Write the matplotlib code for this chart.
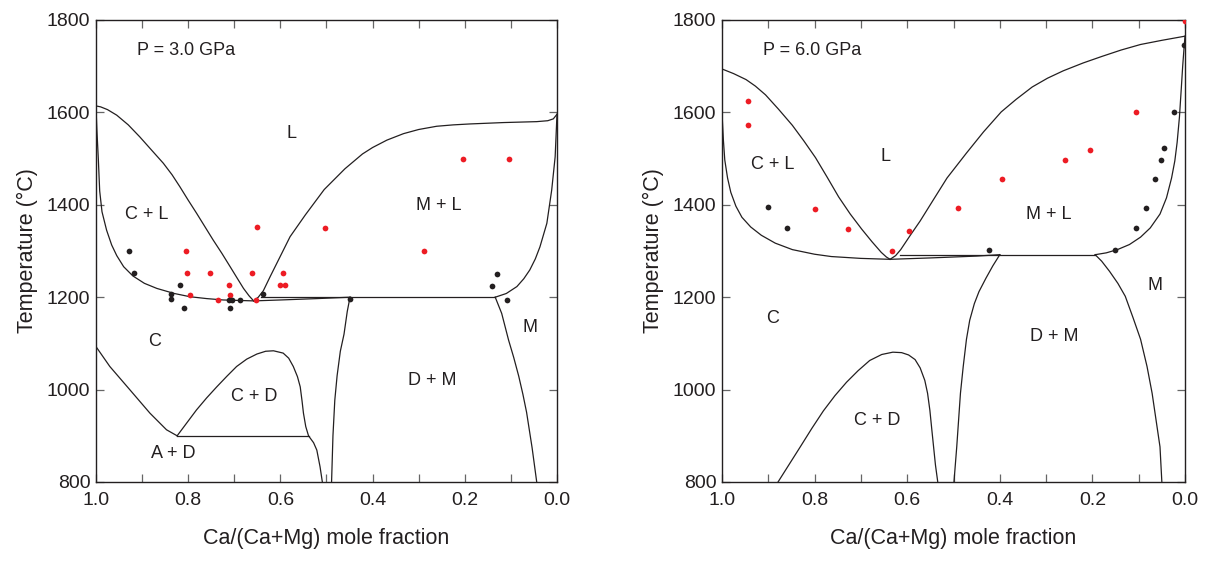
import matplotlib.pyplot as plt
from matplotlib.ticker import MultipleLocator

plt.rcParams['font.family'] = ['Liberation Sans', 'DejaVu Sans']

INK = '#231f20'
RED = '#ed1c24'

# ---- P = 3.0 GPa: experiment points ----
p3_red_x = [0.651, 0.503, 0.805, 0.288, 0.204, 0.105, 0.803, 0.753, 0.662, 0.595,
            0.711, 0.601, 0.590, 0.796, 0.710, 0.735, 0.653]
p3_red_t = [1351, 1350, 1301, 1300, 1500, 1500, 1252, 1252, 1252, 1252,
            1226, 1226, 1226, 1205, 1205, 1195, 1195]
p3_black_x = [0.928, 0.918, 0.818, 0.838, 0.838, 0.809, 0.711, 0.706, 0.710, 0.688,
              0.638, 0.449, 0.141, 0.130, 0.109]
p3_black_t = [1301, 1252, 1226, 1207, 1196, 1176, 1195, 1195, 1176, 1195,
              1207, 1196, 1225, 1250, 1195]

# ---- P = 3.0 GPa: phase boundaries (x, T) ----
p3_c_liquidus = [(1.0, 1614), (0.99, 1612), (0.975, 1606), (0.955, 1594), (0.93, 1573),
                 (0.905, 1547), (0.88, 1519), (0.854, 1490), (0.835, 1465), (0.818, 1439),
                 (0.80, 1410), (0.782, 1382), (0.764, 1353), (0.746, 1324), (0.727, 1295),
                 (0.709, 1266), (0.693, 1240), (0.68, 1219), (0.668, 1203), (0.658, 1192)]
p3_c_solidus = [(1.0, 1610), (0.998, 1560), (0.995, 1500), (0.992, 1430), (0.987, 1385),
                (0.977, 1345), (0.966, 1313), (0.955, 1290), (0.94, 1266), (0.92, 1246),
                (0.895, 1230), (0.868, 1219), (0.83, 1208), (0.796, 1201), (0.76, 1197),
                (0.724, 1194), (0.658, 1192), (0.60, 1194), (0.52, 1197), (0.449, 1200)]
p3_m_liquidus = [(0.658, 1192), (0.648, 1200), (0.637, 1214), (0.622, 1245), (0.608, 1273),
                 (0.579, 1331), (0.546, 1378), (0.505, 1433), (0.46, 1478), (0.422, 1510),
                 (0.40, 1524), (0.369, 1540), (0.333, 1554), (0.30, 1563), (0.261, 1570),
                 (0.225, 1573), (0.189, 1575), (0.116, 1578), (0.044, 1580), (0.02, 1582),
                 (0.008, 1586), (0.0, 1596)]
p3_m_solidus = [(0.0, 1596), (0.002, 1550), (0.004, 1504), (0.0115, 1432), (0.022, 1360),
                (0.037, 1309), (0.047, 1283), (0.059, 1259), (0.072, 1240), (0.087, 1223),
                (0.11, 1208), (0.134, 1200)]
p3_eutectic = [(0.641, 1200), (0.134, 1200)]
p3_m_solvus = [(0.134, 1200), (0.12, 1165), (0.105, 1107), (0.094, 1070), (0.083, 1029),
               (0.074, 990), (0.066, 951), (0.054, 874), (0.044, 800)]
p3_dm_solvus = [(0.449, 1200), (0.455, 1169), (0.462, 1120), (0.470, 1083), (0.477, 1030),
                (0.482, 977), (0.486, 900), (0.489, 800)]
p3_ca_solvus = [(1.0, 1093), (0.97, 1050), (0.926, 999), (0.883, 949), (0.847, 913),
                (0.824, 900)]
p3_eutectoid = [(0.824, 900), (0.539, 900)]
p3_cd_dome = [(0.824, 900), (0.80, 932), (0.782, 956), (0.76, 982), (0.738, 1006),
              (0.716, 1029), (0.695, 1050), (0.673, 1066), (0.651, 1077), (0.632, 1083),
              (0.615, 1084), (0.594, 1079), (0.582, 1068), (0.572, 1050), (0.563, 1028),
              (0.557, 1006), (0.553, 975), (0.550, 949), (0.545, 920), (0.539, 900),
              (0.528, 885), (0.521, 869), (0.514, 833), (0.509, 800)]

p3_labels = [('P = 3.0 GPa', 0.805, 1735), ('L', 0.575, 1555), ('C + L', 0.889, 1380),
             ('M + L', 0.257, 1399), ('C', 0.873, 1105), ('M', 0.058, 1134),
             ('D + M', 0.271, 1019), ('C + D', 0.656, 984), ('A + D', 0.832, 862)]

# ---- P = 6.0 GPa: experiment points ----
p6_red_x = [0.0, 0.943, 0.943, 0.80, 0.728, 0.633, 0.597, 0.491, 0.396, 0.259, 0.205, 0.105]
p6_red_t = [1798, 1625, 1572, 1390, 1347, 1300, 1343, 1392, 1456, 1496, 1518, 1600]
p6_black_x = [0.901, 0.860, 0.424, 0.151, 0.105, 0.084, 0.065, 0.051, 0.046, 0.023, 0.003]
p6_black_t = [1395, 1350, 1302, 1302, 1350, 1393, 1455, 1497, 1522, 1600, 1745]

# ---- P = 6.0 GPa: phase boundaries (x, T) ----
p6_c_liquidus = [(1.0, 1694), (0.975, 1684), (0.948, 1671), (0.928, 1657), (0.906, 1638),
                 (0.878, 1607), (0.848, 1572), (0.823, 1538), (0.798, 1502), (0.773, 1460),
                 (0.748, 1417), (0.723, 1380), (0.698, 1347), (0.676, 1320), (0.656, 1297),
                 (0.645, 1287), (0.637, 1282)]
p6_c_solidus = [(1.0, 1598), (0.997, 1540), (0.994, 1497), (0.988, 1458), (0.981, 1427),
                (0.97, 1397), (0.957, 1373), (0.938, 1352), (0.915, 1334), (0.885, 1317),
                (0.848, 1303), (0.80, 1293), (0.764, 1288), (0.70, 1284), (0.637, 1282),
                (0.55, 1285), (0.45, 1289), (0.40, 1292)]
p6_m_liquidus = [(0.637, 1282), (0.625, 1290), (0.614, 1303), (0.594, 1333), (0.572, 1365),
                 (0.544, 1410), (0.514, 1458), (0.472, 1512), (0.435, 1558), (0.397, 1601),
                 (0.365, 1628), (0.330, 1655), (0.297, 1674), (0.263, 1690), (0.220, 1707),
                 (0.180, 1721), (0.138, 1735), (0.096, 1747), (0.05, 1756), (0.0, 1765)]
p6_m_solidus = [(0.0, 1765), (0.002, 1740), (0.005, 1700), (0.008, 1652), (0.012, 1590),
                (0.017, 1535), (0.022, 1495), (0.029, 1458), (0.04, 1415), (0.054, 1380),
                (0.075, 1350), (0.096, 1330), (0.12, 1314), (0.146, 1303), (0.17, 1296),
                (0.194, 1292)]
p6_eutectic = [(0.616, 1292), (0.194, 1292)]
p6_dm_solvus = [(0.40, 1292), (0.415, 1268), (0.43, 1241), (0.445, 1212), (0.455, 1186),
                (0.465, 1150), (0.472, 1109), (0.479, 1050), (0.485, 992), (0.493, 876),
                (0.499, 800)]
p6_m_solvus = [(0.194, 1292), (0.18, 1278), (0.163, 1256), (0.145, 1230), (0.129, 1202),
               (0.112, 1155), (0.096, 1109), (0.082, 1050), (0.071, 992), (0.054, 876),
               (0.050, 800)]
p6_cd_dome = [(0.879, 800), (0.855, 838), (0.831, 876), (0.806, 916), (0.781, 954),
              (0.756, 987), (0.731, 1016), (0.706, 1041), (0.681, 1063), (0.655, 1076),
              (0.631, 1081), (0.612, 1080), (0.597, 1075), (0.583, 1065), (0.572, 1047),
              (0.562, 1020), (0.556, 992), (0.551, 955), (0.547, 915), (0.539, 837),
              (0.534, 800)]

p6_labels = [('P = 6.0 GPa', 0.806, 1733), ('L', 0.647, 1504), ('C + L', 0.89, 1487),
             ('M + L', 0.295, 1378), ('C', 0.891, 1153), ('M', 0.065, 1226),
             ('D + M', 0.282, 1114), ('C + D', 0.664, 934)]

p3_curves = [p3_c_liquidus, p3_c_solidus, p3_m_liquidus, p3_m_solidus, p3_eutectic,
             p3_m_solvus, p3_dm_solvus, p3_ca_solvus, p3_eutectoid, p3_cd_dome]
p6_curves = [p6_c_liquidus, p6_c_solidus, p6_m_liquidus, p6_m_solidus, p6_eutectic,
             p6_dm_solvus, p6_m_solvus, p6_cd_dome]


def draw_panel(ax, curves, labels, red_x, red_t, black_x, black_t):
    for curve in curves:
        xs = [p[0] for p in curve]
        ts = [p[1] for p in curve]
        ax.plot(xs, ts, color=INK, lw=0.9, zorder=2)
    ax.scatter(red_x, red_t, s=17, color=RED, lw=0, zorder=3)
    ax.scatter(black_x, black_t, s=17, color=INK, lw=0, zorder=3)
    for txt, x, t in labels:
        ax.text(x, t, txt, fontsize=13, color=INK, ha='center', va='center')

    ax.set_xlim(1.0, 0.0)
    ax.set_ylim(800, 1800)
    ax.xaxis.set_major_locator(MultipleLocator(0.2))
    ax.xaxis.set_minor_locator(MultipleLocator(0.1))
    ax.yaxis.set_major_locator(MultipleLocator(200))
    ax.xaxis.set_major_formatter(plt.FuncFormatter(lambda v, _: f'{v:.1f}'))
    ax.tick_params(which='both', direction='in', top=True, right=True, length=6,
                   width=0.9, color='#666666', labelsize=14, labelcolor=INK)
    ax.tick_params(axis='x', which='major', pad=7)
    ax.tick_params(axis='y', pad=4)
    for sp in ax.spines.values():
        sp.set_color(INK)
        sp.set_linewidth(1.0)
    ax.set_xlabel('Ca/(Ca+Mg) mole fraction', fontsize=15.5, color=INK, labelpad=14)
    ax.set_ylabel('Temperature (°C)', fontsize=15.5, color=INK, labelpad=6)


fig = plt.figure(figsize=(12.06, 5.61), dpi=100)
ax1 = fig.add_axes([96 / 1206, 79 / 561, 461 / 1206, 462 / 561])
ax2 = fig.add_axes([722 / 1206, 79 / 561, 463 / 1206, 462 / 561])

draw_panel(ax1, p3_curves, p3_labels, p3_red_x, p3_red_t, p3_black_x, p3_black_t)
draw_panel(ax2, p6_curves, p6_labels, p6_red_x, p6_red_t, p6_black_x, p6_black_t)

fig.savefig('out.png', dpi=100)
